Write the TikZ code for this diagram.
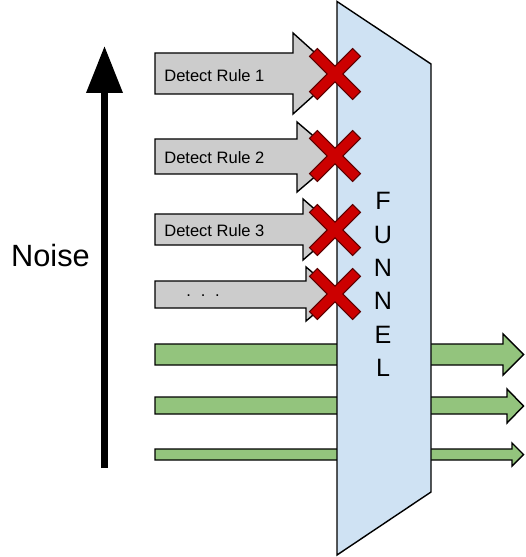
\documentclass[tikz,border=0pt]{standalone}
\usepackage{fontspec}
\setmainfont{Liberation Sans}
\usetikzlibrary{arrows.meta}
\definecolor{rulegray}{HTML}{CCCCCC}
\definecolor{passgreen}{HTML}{93C47D}
\definecolor{funnelblue}{HTML}{CFE2F3}
\definecolor{crossred}{HTML}{CC0000}
\definecolor{crossdark}{HTML}{5A0000}
\tikzset{
    rulearrow/.style = {draw = black, fill = rulegray, line width = 0.8pt},
    passarrow/.style = {draw = black, fill = passgreen, line width = 0.8pt},
    rulelabel/.style = {anchor = west, inner sep = 0pt, font = \fontsize{9.4pt}{11pt}\selectfont}
}
\begin{document}
\begin{tikzpicture}[x = 0.02cm, y = -0.02cm]
            \useasboundingbox (0,0) rectangle (525,557);
            % rules that get stopped
            \draw[rulearrow] (155,53) -- (293,53) -- (293,33) -- (338,73.5) -- (293,114) -- (293,94) -- (155,94) -- cycle;
            \draw[rulearrow] (155,139) -- (297,139) -- (297,122) -- (338,157) -- (297,192) -- (297,174) -- (155,174) -- cycle;
            \draw[rulearrow] (155,214) -- (303,214) -- (303,199) -- (338,229.5) -- (303,260) -- (303,245) -- (155,245) -- cycle;
            \draw[rulearrow] (155,281) -- (306,281) -- (306,267) -- (338,294) -- (306,321) -- (306,308) -- (155,308) -- cycle;
            % rules that pass
            \draw[passarrow] (155,344) -- (503,344) -- (503,334) -- (523.5,354.5) -- (503,375) -- (503,365) -- (155,365) -- cycle;
            \draw[passarrow] (155,397) -- (507,397) -- (507,389) -- (523.5,406) -- (507,423) -- (507,414) -- (155,414) -- cycle;
            \draw[passarrow] (155,449) -- (512,449) -- (512,443) -- (523.5,454.5) -- (512,466) -- (512,460) -- (155,460) -- cycle;
            % funnel
            \draw[fill = funnelblue, line width = 0.8pt] (337,1.5) -- (431,64) -- (431,492) -- (337,555) -- cycle;
            \node[align = center, inner sep = 0pt, font = \fontsize{14.3pt}{19pt}\selectfont] (funnel) at (383,284.5) {F\\U\\N\\N\\E\\L};
            \node[rulelabel] (rule1) at (164,75.5) {Detect Rule 1};
            \node[rulelabel] (rule2) at (164,158) {Detect Rule 2};
            \node[rulelabel] (rule3) at (164,231) {Detect Rule 3};
            \node[rulelabel, anchor = base west] (ruledots) at (186,296) {.\hspace{5.6pt}.\hspace{5.6pt}.};
            % crosses
            \foreach \y in {74,156,230,294} {
                \begin{scope}[shift = {(335,\y)}, rotate = 45]
                    \draw[fill = crossred, draw = crossdark, line width = 0.6pt] (30.5,5.5) -- (5.5,5.5) -- (5.5,30.5) -- (-5.5,30.5) -- (-5.5,5.5) -- (-30.5,5.5) -- (-30.5,-5.5) -- (-5.5,-5.5) -- (-5.5,-30.5) -- (5.5,-30.5) -- (5.5,-5.5) -- (30.5,-5.5) -- cycle;
                \end{scope}
            }
            % noise axis
            \coordinate (noisebottom) at (104.5,468);
            \coordinate (noisetop) at (104.5,46);
            \draw[line width = 0.14cm, -{Triangle[length = 0.94cm, width = 0.7cm]}] (noisebottom) -- (noisetop);
            \node[font = \fontsize{17.5pt}{20pt}\selectfont] (noise) at (50.5,256) {Noise};
        \end{tikzpicture}
\end{document}
